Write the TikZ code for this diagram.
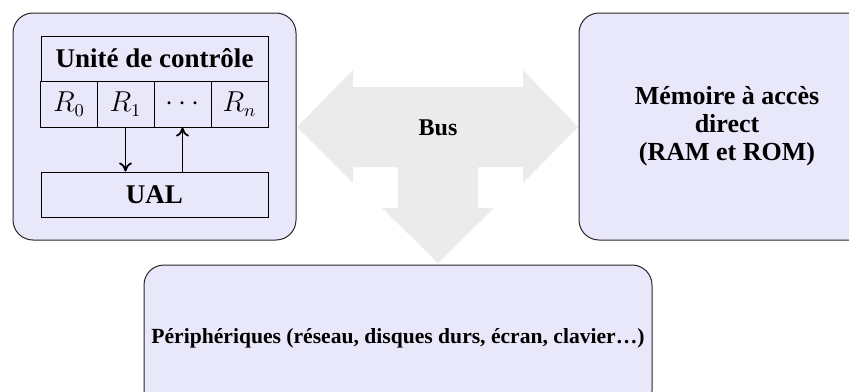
\documentclass[tikz,border=0pt]{standalone}
\usepackage{fontspec}
\setmainfont{Liberation Serif}
\usetikzlibrary{arrows.meta}
\definecolor{boxfill}{RGB}{232,232,250}
\definecolor{busfill}{RGB}{235,235,235}
\tikzset{
  outerbox/.style={draw=black!85, fill=boxfill, rounded corners=10pt, line width=0.5pt, align=center, inner sep=1pt, font=\bfseries},
  innerbox/.style={draw=black, fill=boxfill, line width=0.5pt, inner sep=0pt, font=\fontsize{13.5}{16}\selectfont\bfseries},
  regbox/.style={draw=black, fill=boxfill, line width=0.5pt, inner sep=0pt, minimum width=28.5pt, minimum height=23pt, font=\fontsize{13.5}{16}\selectfont},
  flow/.style={-{To[length=4.5pt,width=6.5pt]}, line width=0.9pt},
}
\begin{document}
\begin{tikzpicture}[x=0.5pt, y=-0.5pt]
\useasboundingbox (0,0) rectangle (849,391);
\clip (0,0) rectangle (849,391);
% Bus arrow
\fill[busfill] (297,127) -- (353,70) -- (353,87) -- (523,87) -- (523,70) -- (578,127)
  -- (523,183) -- (523,167) -- (478,167) -- (478,208) -- (494,208) -- (438,263)
  -- (382,208) -- (398,208) -- (398,167) -- (353,167) -- (353,183) -- cycle;
\node[font=\fontsize{12}{14}\selectfont\bfseries] (bus) at (438,128) {Bus};
% CPU
\node[outerbox, minimum width=141.5pt, minimum height=113.5pt] (cpu) at (154.5,126.5) {};
\node[innerbox, minimum width=113.5pt, minimum height=22.5pt] (ctrl) at (154.5,58.5) {Unité de contrôle};
\node[regbox] (r0) at (69,104) {$R_0$};
\node[regbox] (r1) at (125.5,104) {$R_1$};
\node[regbox] (rd) at (182.5,104) {$\cdots$};
\node[regbox] (rn) at (239.5,104) {$R_n$};
\node[innerbox, minimum width=113.5pt, minimum height=22.5pt] (ual) at (154.5,194.5) {UAL};
\draw[flow] (r1.south) -- (r1.south |- ual.north);
\draw[flow] (rd.south |- ual.north) -- (rd.south);
% RAM
\node[outerbox, minimum width=148pt, minimum height=113.5pt, font=\fontsize{13}{14}\selectfont\bfseries] (ram) at (727,126.5) {Mémoire à accès\\direct\\(RAM et ROM)};
% Peripherals
\node[outerbox, minimum width=254pt, minimum height=73pt, font=\fontsize{10.8}{13}\selectfont\bfseries] (per) at (398,338) {Périphériques (réseau, disques durs, écran, clavier…)};
\end{tikzpicture}
\end{document}
